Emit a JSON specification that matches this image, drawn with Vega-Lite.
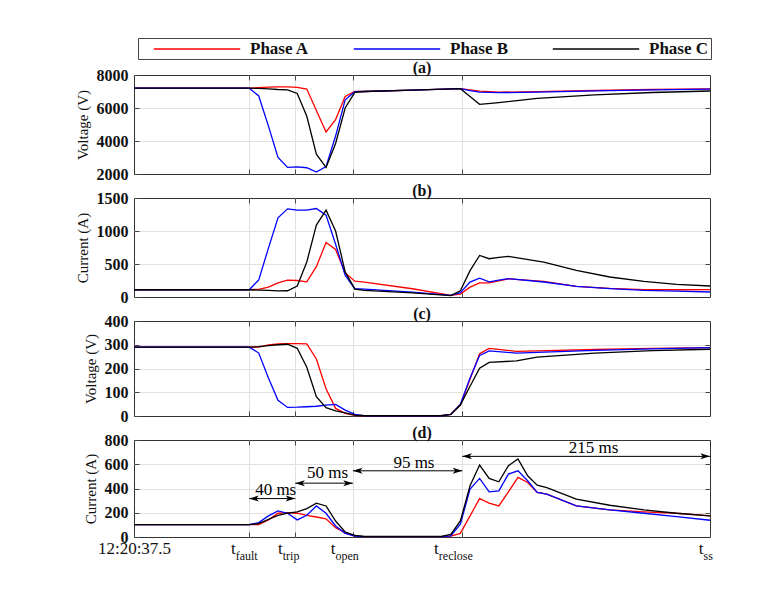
{
  "$schema": "https://vega.github.io/schema/vega-lite/v6.json",
  "padding": {"left": 74, "top": 37, "right": 5, "bottom": 5},
  "background": "white",
  "datasets": {
    "v1": [
      {"t": 0, "Phase A": 7200, "Phase B": 7200, "Phase C": 7200},
      {"t": 100, "Phase A": 7200, "Phase B": 7200, "Phase C": 7200},
      {"t": 108.3, "Phase A": 7230, "Phase B": 6730, "Phase C": 7190},
      {"t": 116.7, "Phase A": 7260, "Phase B": 4900, "Phase C": 7160},
      {"t": 125, "Phase A": 7280, "Phase B": 3000, "Phase C": 7120},
      {"t": 133.3, "Phase A": 7280, "Phase B": 2400, "Phase C": 7100},
      {"t": 141.7, "Phase A": 7250, "Phase B": 2430, "Phase C": 6880},
      {"t": 150, "Phase A": 7150, "Phase B": 2380, "Phase C": 5500},
      {"t": 158.3, "Phase A": 5850, "Phase B": 2120, "Phase C": 3200},
      {"t": 166.7, "Phase A": 4550, "Phase B": 2450, "Phase C": 2400},
      {"t": 175, "Phase A": 5300, "Phase B": 4300, "Phase C": 3850},
      {"t": 183.3, "Phase A": 6700, "Phase B": 6500, "Phase C": 6000},
      {"t": 191.7, "Phase A": 7000, "Phase B": 6990, "Phase C": 6950},
      {"t": 200, "Phase A": 7000, "Phase B": 7000, "Phase C": 7000},
      {"t": 241.7, "Phase A": 7080, "Phase B": 7080, "Phase C": 7080},
      {"t": 283.3, "Phase A": 7170, "Phase B": 7170, "Phase C": 7170},
      {"t": 291.7, "Phase A": 7100, "Phase B": 7050, "Phase C": 6700},
      {"t": 300, "Phase A": 7020, "Phase B": 6960, "Phase C": 6220},
      {"t": 316.7, "Phase A": 6960, "Phase B": 6930, "Phase C": 6330},
      {"t": 350, "Phase A": 6990, "Phase B": 6960, "Phase C": 6580},
      {"t": 400, "Phase A": 7060, "Phase B": 7040, "Phase C": 6800},
      {"t": 450, "Phase A": 7120, "Phase B": 7100, "Phase C": 6940},
      {"t": 500, "Phase A": 7160, "Phase B": 7140, "Phase C": 7030}
    ],
    "i1": [
      {"t": 0, "Phase A": 110, "Phase B": 110, "Phase C": 110},
      {"t": 100, "Phase A": 110, "Phase B": 110, "Phase C": 110},
      {"t": 108.3, "Phase A": 117, "Phase B": 260, "Phase C": 105},
      {"t": 116.7, "Phase A": 150, "Phase B": 740, "Phase C": 100},
      {"t": 125, "Phase A": 215, "Phase B": 1200, "Phase C": 92},
      {"t": 133.3, "Phase A": 255, "Phase B": 1335, "Phase C": 95},
      {"t": 141.7, "Phase A": 250, "Phase B": 1315, "Phase C": 165},
      {"t": 150, "Phase A": 230, "Phase B": 1315, "Phase C": 530},
      {"t": 158.3, "Phase A": 460, "Phase B": 1340, "Phase C": 1090},
      {"t": 166.7, "Phase A": 825, "Phase B": 1240, "Phase C": 1315},
      {"t": 175, "Phase A": 720, "Phase B": 800, "Phase C": 1000},
      {"t": 183.3, "Phase A": 365, "Phase B": 330, "Phase C": 380},
      {"t": 191.7, "Phase A": 240, "Phase B": 125, "Phase C": 120},
      {"t": 200, "Phase A": 225, "Phase B": 118, "Phase C": 100},
      {"t": 241.7, "Phase A": 125, "Phase B": 75, "Phase C": 62},
      {"t": 275, "Phase A": 25, "Phase B": 25, "Phase C": 22},
      {"t": 283.3, "Phase A": 45, "Phase B": 65, "Phase C": 95},
      {"t": 291.7, "Phase A": 150, "Phase B": 225, "Phase C": 400},
      {"t": 300, "Phase A": 215, "Phase B": 285, "Phase C": 630},
      {"t": 308.3, "Phase A": 215, "Phase B": 230, "Phase C": 580},
      {"t": 316.7, "Phase A": 245, "Phase B": 255, "Phase C": 600},
      {"t": 325, "Phase A": 275, "Phase B": 278, "Phase C": 615},
      {"t": 355.7, "Phase A": 237, "Phase B": 227, "Phase C": 530},
      {"t": 384, "Phase A": 162, "Phase B": 160, "Phase C": 404},
      {"t": 413, "Phase A": 131, "Phase B": 126, "Phase C": 303},
      {"t": 442.6, "Phase A": 111, "Phase B": 101, "Phase C": 237},
      {"t": 471, "Phase A": 110, "Phase B": 88, "Phase C": 192},
      {"t": 500, "Phase A": 111, "Phase B": 76, "Phase C": 167}
    ],
    "v2": [
      {"t": 0, "Phase A": 290, "Phase B": 290, "Phase C": 290},
      {"t": 100, "Phase A": 290, "Phase B": 290, "Phase C": 290},
      {"t": 108.3, "Phase A": 290, "Phase B": 265, "Phase C": 292},
      {"t": 116.7, "Phase A": 299, "Phase B": 160, "Phase C": 296},
      {"t": 125, "Phase A": 304, "Phase B": 66, "Phase C": 300},
      {"t": 133.3, "Phase A": 305, "Phase B": 36, "Phase C": 302},
      {"t": 141.7, "Phase A": 305, "Phase B": 37, "Phase C": 285},
      {"t": 150, "Phase A": 304, "Phase B": 39, "Phase C": 205},
      {"t": 158.3, "Phase A": 240, "Phase B": 41, "Phase C": 81},
      {"t": 166.7, "Phase A": 115, "Phase B": 46, "Phase C": 35},
      {"t": 175, "Phase A": 32, "Phase B": 49, "Phase C": 22},
      {"t": 183.3, "Phase A": 11, "Phase B": 25, "Phase C": 13},
      {"t": 191.7, "Phase A": 3, "Phase B": 7, "Phase C": 4},
      {"t": 200, "Phase A": 1, "Phase B": 1, "Phase C": 1},
      {"t": 266.7, "Phase A": 1, "Phase B": 1, "Phase C": 1},
      {"t": 275, "Phase A": 7, "Phase B": 7, "Phase C": 7},
      {"t": 283.3, "Phase A": 46, "Phase B": 50, "Phase C": 46},
      {"t": 291.7, "Phase A": 155, "Phase B": 160, "Phase C": 125},
      {"t": 300, "Phase A": 262, "Phase B": 255, "Phase C": 201},
      {"t": 308.3, "Phase A": 285, "Phase B": 274, "Phase C": 226},
      {"t": 332, "Phase A": 272, "Phase B": 265, "Phase C": 232},
      {"t": 350, "Phase A": 274, "Phase B": 268, "Phase C": 248},
      {"t": 400, "Phase A": 280, "Phase B": 276, "Phase C": 265},
      {"t": 450, "Phase A": 285, "Phase B": 283, "Phase C": 275},
      {"t": 500, "Phase A": 288, "Phase B": 288, "Phase C": 281}
    ],
    "i2": [
      {"t": 0, "Phase A": 102, "Phase B": 102, "Phase C": 102},
      {"t": 100, "Phase A": 102, "Phase B": 102, "Phase C": 102},
      {"t": 108.3, "Phase A": 102, "Phase B": 119, "Phase C": 110},
      {"t": 116.7, "Phase A": 140, "Phase B": 174, "Phase C": 146},
      {"t": 125, "Phase A": 196, "Phase B": 215, "Phase C": 179},
      {"t": 133.3, "Phase A": 201, "Phase B": 196, "Phase C": 196},
      {"t": 141.7, "Phase A": 196, "Phase B": 141, "Phase C": 207},
      {"t": 150, "Phase A": 178, "Phase B": 179, "Phase C": 234},
      {"t": 158.3, "Phase A": 165, "Phase B": 256, "Phase C": 279},
      {"t": 166.7, "Phase A": 150, "Phase B": 196, "Phase C": 256},
      {"t": 175, "Phase A": 77, "Phase B": 91, "Phase C": 132},
      {"t": 183.3, "Phase A": 36, "Phase B": 30, "Phase C": 41},
      {"t": 191.7, "Phase A": 8, "Phase B": 8, "Phase C": 14},
      {"t": 200, "Phase A": 3, "Phase B": 3, "Phase C": 5},
      {"t": 266.7, "Phase A": 3, "Phase B": 3, "Phase C": 5},
      {"t": 275, "Phase A": 8, "Phase B": 10, "Phase C": 22},
      {"t": 283.3, "Phase A": 30, "Phase B": 105, "Phase C": 132},
      {"t": 291.7, "Phase A": 174, "Phase B": 395, "Phase C": 422},
      {"t": 300, "Phase A": 317, "Phase B": 483, "Phase C": 593},
      {"t": 308.3, "Phase A": 279, "Phase B": 372, "Phase C": 483},
      {"t": 316.7, "Phase A": 256, "Phase B": 380, "Phase C": 455},
      {"t": 325, "Phase A": 372, "Phase B": 519, "Phase C": 588},
      {"t": 333.3, "Phase A": 491, "Phase B": 546, "Phase C": 643},
      {"t": 341.7, "Phase A": 450, "Phase B": 464, "Phase C": 505},
      {"t": 350, "Phase A": 367, "Phase B": 367, "Phase C": 428},
      {"t": 358.3, "Phase A": 353, "Phase B": 353, "Phase C": 408},
      {"t": 384, "Phase A": 256, "Phase B": 256, "Phase C": 312},
      {"t": 413, "Phase A": 224, "Phase B": 224, "Phase C": 262},
      {"t": 442.6, "Phase A": 207, "Phase B": 196, "Phase C": 224},
      {"t": 471, "Phase A": 196, "Phase B": 168, "Phase C": 196},
      {"t": 500, "Phase A": 174, "Phase B": 138, "Phase C": 174}
    ],
    "ann": [
      {"start": 100, "end": 140, "ay": 317, "lx": 123, "ly": 389, "label": "40 ms"},
      {"start": 140, "end": 190, "ay": 444, "lx": 168, "ly": 530, "label": "50 ms"},
      {"start": 190, "end": 285, "ay": 546, "lx": 243, "ly": 608, "label": "95 ms"},
      {"start": 285, "end": 500, "ay": 665, "lx": 399, "ly": 733, "label": "215 ms"}
    ]
  },
  "spacing": -1,
  "vconcat": [
    {
      "width": 576, "height": 99,
      "title": {"text": "(a)"},
      "layer": [
        {
          "data": {"name": "v1"},
          "transform": [{"fold": ["Phase A", "Phase B", "Phase C"], "as": ["phase", "v"]}],
          "mark": {"type": "line", "strokeWidth": 1.3},
          "encoding": {
            "x": {"field": "t", "type": "quantitative", "scale": {"domain": [0, 500], "nice": false, "zero": false},
                  "axis": {"orient": "bottom", "values": [100, 140, 190, 285], "labels": false, "grid": true, "tickSize": -5, "title": null, "minExtent": 0, "maxExtent": 0}},
            "y": {"field": "v", "type": "quantitative", "scale": {"domain": [2000, 8000], "nice": false, "zero": false},
                  "axis": {"orient": "left", "values": [2000, 4000, 6000, 8000], "format": "d", "grid": true, "gridOpacity": {"condition": {"test": "datum.value == 2000 || datum.value == 8000", "value": 0}, "value": 1}, "tickSize": -5, "labelPadding": 11, "title": "Voltage (V)"}},
            "color": {"field": "phase", "type": "nominal", "scale": {"domain": ["Phase A", "Phase B", "Phase C"], "range": ["#ff0000", "#0000ff", "#000000"]}, "legend": {"title": null}}
          }
        },
        {
          "data": {"name": "v1"},
          "transform": [{"fold": ["Phase A", "Phase B", "Phase C"], "as": ["phase", "v"]}],
          "mark": {"type": "line", "opacity": 0},
          "encoding": {
            "x": {"field": "t", "type": "quantitative", "scale": {"domain": [0, 500], "nice": false, "zero": false},
                  "axis": {"orient": "top", "values": [100, 140, 190, 285], "labels": false, "grid": false, "tickSize": -5, "title": null, "minExtent": 0, "maxExtent": 0}},
            "y": {"field": "v", "type": "quantitative", "scale": {"domain": [2000, 8000], "nice": false, "zero": false},
                  "axis": {"orient": "right", "values": [4000, 6000], "labels": false, "grid": false, "tickSize": -5, "title": null, "minExtent": 0, "maxExtent": 0}},
            "detail": {"field": "phase"}
          }
        }
      ],
      "resolve": {"axis": {"x": "independent", "y": "independent"}}
    },
    {
      "width": 576, "height": 99,
      "title": {"text": "(b)"},
      "layer": [
        {
          "data": {"name": "i1"},
          "transform": [{"fold": ["Phase A", "Phase B", "Phase C"], "as": ["phase", "v"]}],
          "mark": {"type": "line", "strokeWidth": 1.3},
          "encoding": {
            "x": {"field": "t", "type": "quantitative", "scale": {"domain": [0, 500], "nice": false, "zero": false},
                  "axis": {"orient": "bottom", "values": [100, 140, 190, 285], "labels": false, "grid": true, "tickSize": -5, "title": null, "minExtent": 0, "maxExtent": 0}},
            "y": {"field": "v", "type": "quantitative", "scale": {"domain": [0, 1500], "nice": false, "zero": false},
                  "axis": {"orient": "left", "values": [0, 500, 1000, 1500], "format": "d", "grid": true, "gridOpacity": {"condition": {"test": "datum.value == 0 || datum.value == 1500", "value": 0}, "value": 1}, "tickSize": -5, "labelPadding": 11, "title": "Current (A)"}},
            "color": {"field": "phase", "type": "nominal", "scale": {"domain": ["Phase A", "Phase B", "Phase C"], "range": ["#ff0000", "#0000ff", "#000000"]}, "legend": {"title": null}}
          }
        },
        {
          "data": {"name": "i1"},
          "transform": [{"fold": ["Phase A", "Phase B", "Phase C"], "as": ["phase", "v"]}],
          "mark": {"type": "line", "opacity": 0},
          "encoding": {
            "x": {"field": "t", "type": "quantitative", "scale": {"domain": [0, 500], "nice": false, "zero": false},
                  "axis": {"orient": "top", "values": [100, 140, 190, 285], "labels": false, "grid": false, "tickSize": -5, "title": null, "minExtent": 0, "maxExtent": 0}},
            "y": {"field": "v", "type": "quantitative", "scale": {"domain": [0, 1500], "nice": false, "zero": false},
                  "axis": {"orient": "right", "values": [500, 1000], "labels": false, "grid": false, "tickSize": -5, "title": null, "minExtent": 0, "maxExtent": 0}},
            "detail": {"field": "phase"}
          }
        }
      ],
      "resolve": {"axis": {"x": "independent", "y": "independent"}}
    },
    {
      "width": 576, "height": 95,
      "title": {"text": "(c)"},
      "layer": [
        {
          "data": {"name": "v2"},
          "transform": [{"fold": ["Phase A", "Phase B", "Phase C"], "as": ["phase", "v"]}],
          "mark": {"type": "line", "strokeWidth": 1.3},
          "encoding": {
            "x": {"field": "t", "type": "quantitative", "scale": {"domain": [0, 500], "nice": false, "zero": false},
                  "axis": {"orient": "bottom", "values": [100, 140, 190, 285], "labels": false, "grid": true, "tickSize": -5, "title": null, "minExtent": 0, "maxExtent": 0}},
            "y": {"field": "v", "type": "quantitative", "scale": {"domain": [0, 400], "nice": false, "zero": false},
                  "axis": {"orient": "left", "values": [0, 100, 200, 300, 400], "format": "d", "grid": true, "gridOpacity": {"condition": {"test": "datum.value == 0 || datum.value == 400", "value": 0}, "value": 1}, "tickSize": -5, "labelPadding": 11, "title": "Voltage (V)"}},
            "color": {"field": "phase", "type": "nominal", "scale": {"domain": ["Phase A", "Phase B", "Phase C"], "range": ["#ff0000", "#0000ff", "#000000"]}, "legend": {"title": null}}
          }
        },
        {
          "data": {"name": "v2"},
          "transform": [{"fold": ["Phase A", "Phase B", "Phase C"], "as": ["phase", "v"]}],
          "mark": {"type": "line", "opacity": 0},
          "encoding": {
            "x": {"field": "t", "type": "quantitative", "scale": {"domain": [0, 500], "nice": false, "zero": false},
                  "axis": {"orient": "top", "values": [100, 140, 190, 285], "labels": false, "grid": false, "tickSize": -5, "title": null, "minExtent": 0, "maxExtent": 0}},
            "y": {"field": "v", "type": "quantitative", "scale": {"domain": [0, 400], "nice": false, "zero": false},
                  "axis": {"orient": "right", "values": [100, 200, 300], "labels": false, "grid": false, "tickSize": -5, "title": null, "minExtent": 0, "maxExtent": 0}},
            "detail": {"field": "phase"}
          }
        }
      ],
      "resolve": {"axis": {"x": "independent", "y": "independent"}}
    },
    {
      "width": 576, "height": 97,
      "title": {"text": "(d)"},
      "layer": [
        {
          "data": {"name": "i2"},
          "transform": [{"fold": ["Phase A", "Phase B", "Phase C"], "as": ["phase", "v"]}],
          "mark": {"type": "line", "strokeWidth": 1.3},
          "encoding": {
            "x": {"field": "t", "type": "quantitative", "scale": {"domain": [0, 500], "nice": false, "zero": false},
                  "axis": {"orient": "bottom", "values": [0, 100, 140, 190, 285, 500], "grid": true,
                           "gridOpacity": {"condition": {"test": "datum.value == 0 || datum.value == 500", "value": 0}, "value": 1},
                           "tickSize": -5, "title": null,
                           "labelExpr": "datum.value == 0 ? '12:20:37.5' : 't'",
                           "labelFontSize": 17, "labelFontWeight": "normal", "labelBaseline": "top", "labelPadding": 8,
                           "labelAlign": {"condition": {"test": "datum.value == 0", "value": "center"}, "value": "right"},
                           "labelOffset": {"condition": [
                             {"test": "datum.value == 100", "value": -14},
                             {"test": "datum.value == 140", "value": -13},
                             {"test": "datum.value == 190", "value": -18},
                             {"test": "datum.value == 285", "value": -24},
                             {"test": "datum.value == 500", "value": -7}], "value": 0}}},
            "y": {"field": "v", "type": "quantitative", "scale": {"domain": [0, 800], "nice": false, "zero": false},
                  "axis": {"orient": "left", "values": [0, 200, 400, 600, 800], "format": "d", "grid": true, "gridOpacity": {"condition": {"test": "datum.value == 0 || datum.value == 800", "value": 0}, "value": 1}, "tickSize": -5, "labelPadding": 11, "title": "Current (A)"}},
            "color": {"field": "phase", "type": "nominal", "scale": {"domain": ["Phase A", "Phase B", "Phase C"], "range": ["#ff0000", "#0000ff", "#000000"]}, "legend": {"title": null}}
          }
        },
        {
          "data": {"name": "i2"},
          "transform": [{"fold": ["Phase A", "Phase B", "Phase C"], "as": ["phase", "v"]}],
          "mark": {"type": "line", "opacity": 0},
          "encoding": {
            "x": {"field": "t", "type": "quantitative", "scale": {"domain": [0, 500], "nice": false, "zero": false},
                  "axis": {"orient": "top", "values": [100, 140, 190, 285], "labels": false, "grid": false, "tickSize": -5, "title": null, "minExtent": 0, "maxExtent": 0}},
            "y": {"field": "v", "type": "quantitative", "scale": {"domain": [0, 800], "nice": false, "zero": false},
                  "axis": {"orient": "right", "values": [200, 400, 600], "labels": false, "grid": false, "tickSize": -5, "title": null, "minExtent": 0, "maxExtent": 0}},
            "detail": {"field": "phase"}
          }
        },
        {
          "data": {"name": "i2"},
          "transform": [{"fold": ["Phase A", "Phase B", "Phase C"], "as": ["phase", "v"]}],
          "mark": {"type": "line", "opacity": 0},
          "encoding": {
            "x": {"field": "t", "type": "quantitative", "scale": {"domain": [0, 500], "nice": false, "zero": false},
                  "axis": {"orient": "bottom", "values": [100, 140, 190, 285, 500], "grid": false, "ticks": false, "title": null,
                           "labelExpr": "datum.value == 100 ? 'fault' : datum.value == 140 ? 'trip' : datum.value == 190 ? 'open' : datum.value == 285 ? 'reclose' : datum.value == 500 ? 'ss' : ''",
                           "labelFontSize": 12, "labelFontWeight": "normal", "labelBaseline": "top", "labelPadding": 13, "labelAlign": "left",
                           "labelOffset": {"condition": [
                             {"test": "datum.value == 100", "value": -14},
                             {"test": "datum.value == 140", "value": -13},
                             {"test": "datum.value == 190", "value": -18},
                             {"test": "datum.value == 285", "value": -24},
                             {"test": "datum.value == 500", "value": -7}], "value": 0}}},
            "y": {"field": "v", "type": "quantitative", "scale": {"domain": [0, 800], "nice": false, "zero": false}, "axis": null},
            "detail": {"field": "phase"}
          }
        },
        {
          "data": {"name": "ann"},
          "mark": {"type": "rule", "color": "#000000", "strokeWidth": 1},
          "encoding": {
            "x": {"field": "start", "type": "quantitative", "scale": {"domain": [0, 500], "nice": false, "zero": false}, "axis": null},
            "x2": {"field": "end"},
            "y": {"field": "ay", "type": "quantitative", "scale": {"domain": [0, 800], "nice": false, "zero": false}, "axis": null}
          }
        },
        {
          "data": {"name": "ann"},
          "mark": {"type": "point", "shape": "M0,0 L2.4,-0.75 L1.8,0 L2.4,0.75 Z", "filled": true, "color": "#000000", "size": 64, "opacity": 1, "strokeWidth": 0},
          "encoding": {
            "x": {"field": "start", "type": "quantitative", "scale": {"domain": [0, 500], "nice": false, "zero": false}, "axis": null},
            "y": {"field": "ay", "type": "quantitative", "scale": {"domain": [0, 800], "nice": false, "zero": false}, "axis": null}
          }
        },
        {
          "data": {"name": "ann"},
          "mark": {"type": "point", "shape": "M0,0 L-2.4,-0.75 L-1.8,0 L-2.4,0.75 Z", "filled": true, "color": "#000000", "size": 64, "opacity": 1, "strokeWidth": 0},
          "encoding": {
            "x": {"field": "end", "type": "quantitative", "scale": {"domain": [0, 500], "nice": false, "zero": false}, "axis": null},
            "y": {"field": "ay", "type": "quantitative", "scale": {"domain": [0, 800], "nice": false, "zero": false}, "axis": null}
          }
        },
        {
          "data": {"name": "ann"},
          "mark": {"type": "text", "font": "Liberation Serif", "fontSize": 17, "color": "#000000", "baseline": "middle", "align": "center"},
          "encoding": {
            "x": {"field": "lx", "type": "quantitative", "scale": {"domain": [0, 500], "nice": false, "zero": false}, "axis": null},
            "y": {"field": "ly", "type": "quantitative", "scale": {"domain": [0, 800], "nice": false, "zero": false}, "axis": null},
            "text": {"field": "label"}
          }
        }
      ],
      "resolve": {"axis": {"x": "independent", "y": "independent"}}
    }
  ],
  "config": {
    "font": "Liberation Serif",
    "view": {"stroke": "#333333", "strokeWidth": 1},
    "axis": {
      "labelFont": "Liberation Serif", "titleFont": "Liberation Serif",
      "labelFontSize": 16, "labelFontWeight": "bold", "labelColor": "#111111",
      "titleFontSize": 15, "titleFontWeight": "normal", "titleColor": "#111111", "titlePadding": 6,
      "domain": false, "tickColor": "#444444", "tickWidth": 1,
      "gridColor": "#e0e0e0", "gridWidth": 1,
      "labelFlush": false, "labelOverlap": false, "labelBound": false
    },
    "title": {"font": "Liberation Serif", "fontSize": 16, "fontWeight": "bold", "color": "#111111", "offset": -9, "frame": "group", "anchor": "middle"},
    "legend": {
      "orient": "none", "legendX": 4, "legendY": -37,
      "direction": "horizontal", "columns": 3,
      "symbolType": "M-5.4,0 L5.4,0", "symbolSize": 256, "symbolStrokeWidth": 1.3, "symbolOffset": 48,
      "labelFont": "Liberation Serif", "labelFontSize": 17, "labelFontWeight": "bold", "labelColor": "#111111", "labelOffset": 44,
      "columnPadding": 30, "padding": 2, "strokeColor": "#444444"
    }
  }
}
